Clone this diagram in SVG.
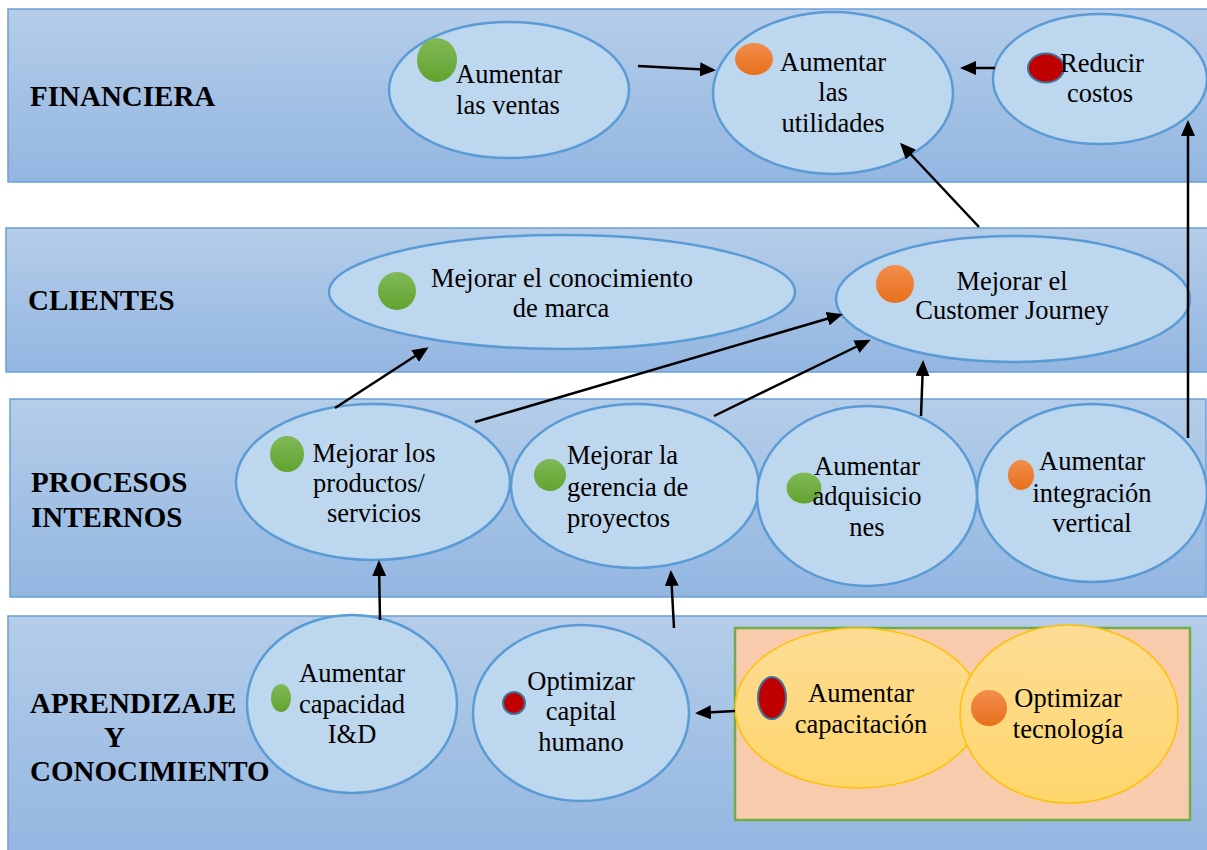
<svg xmlns="http://www.w3.org/2000/svg" width="1207" height="850" viewBox="0 0 1207 850">
  <defs>
    <linearGradient id="band" x1="0" y1="0" x2="0" y2="1">
      <stop offset="0" stop-color="#b5cde9"/>
      <stop offset="1" stop-color="#93b6e1"/>
    </linearGradient>
    <linearGradient id="green" x1="0" y1="0" x2="0" y2="1">
      <stop offset="0" stop-color="#80b957"/>
      <stop offset="1" stop-color="#62a32f"/>
    </linearGradient>
    <linearGradient id="orange" x1="0" y1="0" x2="0" y2="1">
      <stop offset="0" stop-color="#f38d4c"/>
      <stop offset="1" stop-color="#e8701c"/>
    </linearGradient>
    <linearGradient id="yellow" x1="0" y1="0" x2="0" y2="1">
      <stop offset="0" stop-color="#fddc94"/>
      <stop offset="1" stop-color="#fed66c"/>
    </linearGradient>
    <marker id="arrow" markerUnits="userSpaceOnUse" markerWidth="16" markerHeight="14" refX="13" refY="7" orient="auto">
      <path d="M0,0 L16,7 L0,14 z" fill="#000"/>
    </marker>
    <style>
      .band { fill: url(#band); stroke: #6a9fd8; stroke-width: 1.5; }
      .node { fill: #bdd7ee; stroke: #5b9bd5; stroke-width: 2.5; }
      .ynode { fill: url(#yellow); stroke: #ffc000; stroke-width: 1.5; }
      .g { fill: url(#green); }
      .o { fill: url(#orange); }
      .r { fill: #c00000; stroke: #41719c; stroke-width: 2; }
      .lbl { font-family: "Liberation Serif", "Times New Roman", serif; font-weight: bold; font-size: 29px; fill: #000; }
      .t { font-family: "Liberation Serif", "Times New Roman", serif; font-size: 26.5px; fill: #000; text-anchor: middle; }
      .tl { font-family: "Liberation Serif", "Times New Roman", serif; font-size: 26.5px; fill: #000; }
      .conn line { stroke: #000; stroke-width: 2.5; marker-end: url(#arrow); }
    </style>
  </defs>

  <rect width="1207" height="850" fill="#ffffff"/>

  <!-- perspective bands -->
  <g id="bands">
    <rect class="band" x="8" y="9" width="1204" height="173"/>
    <rect class="band" x="6" y="228" width="1206" height="144"/>
    <rect class="band" x="10" y="399" width="1196" height="198"/>
    <rect class="band" x="8" y="616" width="1204" height="240"/>
    <text class="lbl" x="30" y="106">FINANCIERA</text>
    <text class="lbl" x="28" y="310">CLIENTES</text>
    <text class="lbl" x="31" y="492">PROCESOS</text>
    <text class="lbl" x="31" y="527">INTERNOS</text>
    <text class="lbl" x="30" y="713">APRENDIZAJE</text>
    <text class="lbl" x="104" y="747">Y</text>
    <text class="lbl" x="30" y="781">CONOCIMIENTO</text>
  </g>

  <!-- financial objectives -->
  <g id="ventas">
    <ellipse class="node" cx="509" cy="90" rx="120" ry="68"/>
    <ellipse class="g" cx="437" cy="60" rx="20" ry="22"/>
    <text class="t" x="509" y="83">Aumentar</text>
    <text class="t" x="508" y="114">las ventas</text>
  </g>
  <g id="utilidades">
    <ellipse class="node" cx="833" cy="93" rx="120" ry="81"/>
    <ellipse class="o" cx="754" cy="59" rx="19" ry="16"/>
    <text class="t" x="833" y="71">Aumentar</text>
    <text class="t" x="833" y="101">las</text>
    <text class="t" x="833" y="132">utilidades</text>
  </g>
  <g id="costos">
    <ellipse class="node" cx="1100" cy="79" rx="107" ry="65"/>
    <ellipse class="r" cx="1046" cy="68" rx="18" ry="14.5"/>
    <text class="t" x="1102" y="72">Reducir</text>
    <text class="t" x="1100" y="102">costos</text>
  </g>

  <!-- customer objectives -->
  <g id="marca">
    <ellipse class="node" cx="562" cy="292" rx="233" ry="57"/>
    <ellipse class="g" cx="397" cy="291" rx="19" ry="19"/>
    <text class="t" x="562" y="287">Mejorar el conocimiento</text>
    <text class="t" x="561" y="317">de marca</text>
  </g>
  <g id="journey">
    <ellipse class="node" cx="1013" cy="299" rx="177" ry="63"/>
    <ellipse class="o" cx="895" cy="284" rx="19" ry="19"/>
    <text class="t" x="1012" y="290">Mejorar el</text>
    <text class="t" x="1012" y="319">Customer Journey</text>
  </g>

  <!-- internal process objectives -->
  <g id="productos">
    <ellipse class="node" cx="373" cy="482" rx="137" ry="78"/>
    <ellipse class="g" cx="287" cy="454" rx="17" ry="18"/>
    <text class="t" x="374" y="462">Mejorar los</text>
    <text class="t" x="369" y="492">productos/</text>
    <text class="t" x="374" y="522">servicios</text>
  </g>
  <g id="gerencia">
    <ellipse class="node" cx="635" cy="486" rx="124" ry="82"/>
    <ellipse class="g" cx="550" cy="475" rx="16" ry="16"/>
    <text class="tl" x="567" y="464">Mejorar la</text>
    <text class="tl" x="567" y="496">gerencia de</text>
    <text class="tl" x="567" y="527">proyectos</text>
  </g>
  <g id="adquisiciones">
    <ellipse class="node" cx="867" cy="496" rx="110" ry="90"/>
    <ellipse class="g" cx="804" cy="488" rx="17.5" ry="15.5"/>
    <text class="t" x="867" y="475">Aumentar</text>
    <text class="t" x="867" y="505">adquisicio</text>
    <text class="t" x="867" y="536">nes</text>
  </g>
  <g id="integracion">
    <ellipse class="node" cx="1092" cy="493" rx="115" ry="89"/>
    <ellipse class="o" cx="1021" cy="475" rx="13" ry="15"/>
    <text class="t" x="1092" y="470">Aumentar</text>
    <text class="t" x="1092" y="502">integración</text>
    <text class="t" x="1092" y="532">vertical</text>
  </g>

  <!-- learning objectives -->
  <g id="id">
    <ellipse class="node" cx="352" cy="704" rx="105" ry="89"/>
    <ellipse class="g" cx="281" cy="698" rx="10" ry="14"/>
    <text class="t" x="352" y="682">Aumentar</text>
    <text class="t" x="352" y="713">capacidad</text>
    <text class="t" x="352" y="743">I&amp;D</text>
  </g>
  <g id="capital">
    <ellipse class="node" cx="581" cy="713" rx="108" ry="88"/>
    <ellipse class="r" cx="514" cy="703" rx="11" ry="11"/>
    <text class="t" x="581" y="690">Optimizar</text>
    <text class="t" x="581" y="720">capital</text>
    <text class="t" x="581" y="751">humano</text>
  </g>
  <g id="grupo">
    <rect x="735" y="628" width="455" height="192" fill="#f8cbad" stroke="#70ad47" stroke-width="2.5"/>
    <g id="capacitacion">
      <ellipse class="ynode" cx="858" cy="708" rx="123" ry="80"/>
      <ellipse class="r" cx="772" cy="698" rx="14" ry="21"/>
      <text class="t" x="861" y="702">Aumentar</text>
      <text class="t" x="861" y="733">capacitación</text>
    </g>
    <g id="tecnologia">
      <ellipse class="ynode" cx="1069" cy="714" rx="109" ry="89"/>
      <ellipse class="o" cx="989" cy="708" rx="18" ry="18"/>
      <text class="t" x="1068" y="707">Optimizar</text>
      <text class="t" x="1068" y="738">tecnología</text>
    </g>
  </g>

  <!-- cause-effect links -->
  <g id="connectors" class="conn">
    <line x1="638" y1="66" x2="713" y2="70"/>
    <line x1="995" y1="68" x2="963" y2="68"/>
    <line x1="979" y1="227" x2="902" y2="145"/>
    <line x1="1188" y1="438" x2="1188" y2="123"/>
    <line x1="335" y1="408" x2="426" y2="349"/>
    <line x1="475" y1="422" x2="840" y2="315"/>
    <line x1="714" y1="416" x2="868" y2="341"/>
    <line x1="921" y1="416" x2="923" y2="363"/>
    <line x1="380" y1="620" x2="379" y2="563"/>
    <line x1="674" y1="628" x2="671" y2="573"/>
    <line x1="735" y1="711" x2="698" y2="713"/>
  </g>
</svg>
